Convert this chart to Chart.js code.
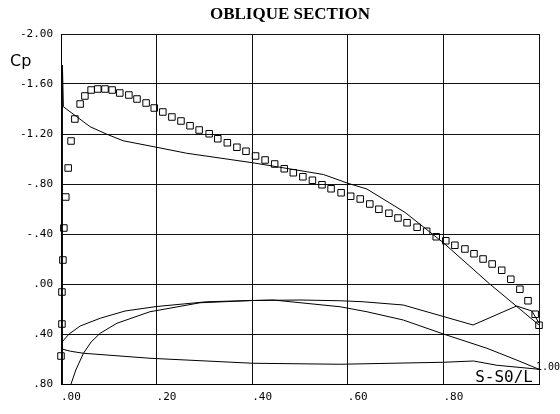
<!DOCTYPE html>
<html>
<head>
<meta charset="utf-8">
<title>Oblique section</title>
<script src="https://cdn.jsdelivr.net/npm/chart.js@4.4.1/dist/chart.umd.min.js"></script>
<style>
  html, body { margin: 0; padding: 0; background: #fff; }
  #wrap { width: 560px; height: 414px; }
</style>
</head>
<body>
<div id="wrap"><canvas id="cp-chart" width="560" height="414"></canvas></div>
<script>
// --- data (x = S-S0/L, y = Cp) ---
const expX = [0.000, 0.002, 0.002, 0.004, 0.006, 0.010, 0.015, 0.021, 0.029, 0.040, 0.050, 0.063, 0.077, 0.092, 0.107, 0.123,
  0.142, 0.159, 0.178, 0.195, 0.213, 0.232, 0.251, 0.270, 0.289, 0.310, 0.328, 0.348, 0.368, 0.387, 0.407, 0.427,
  0.447, 0.467, 0.486, 0.506, 0.526, 0.546, 0.565, 0.586, 0.606, 0.626, 0.646, 0.665, 0.686, 0.705, 0.724, 0.745,
  0.765, 0.785, 0.805, 0.824, 0.845, 0.864, 0.883, 0.902, 0.922, 0.941, 0.960, 0.977, 0.992, 1.000];
const expCp = [0.576, 0.320, 0.064, -0.192, -0.448, -0.696, -0.928, -1.144, -1.320, -1.440, -1.504, -1.552, -1.560, -1.560, -1.552, -1.528,
  -1.512, -1.480, -1.448, -1.408, -1.376, -1.336, -1.304, -1.266, -1.232, -1.202, -1.162, -1.130, -1.094, -1.062, -1.024, -0.992,
  -0.960, -0.922, -0.890, -0.858, -0.830, -0.794, -0.762, -0.730, -0.702, -0.680, -0.640, -0.598, -0.566, -0.528, -0.490, -0.454,
  -0.422, -0.378, -0.346, -0.310, -0.280, -0.242, -0.200, -0.160, -0.110, -0.038, 0.042, 0.134, 0.242, 0.330];

const upperX = [0.003, 0.003, 0.005, 0.019, 0.033, 0.061, 0.096, 0.130, 0.200, 0.263, 0.401, 0.458, 0.549, 0.600, 0.640, 0.720, 0.800, 0.897, 1.000];
const upperCp = [0.800, -1.752, -1.418, -1.378, -1.338, -1.258, -1.198, -1.146, -1.094, -1.046, -0.970, -0.934, -0.876, -0.806, -0.760, -0.572, -0.330, 0.000, 0.328];

const outerX = [0.002, 0.017, 0.040, 0.082, 0.134, 0.200, 0.305, 0.400, 0.500, 0.584, 0.632, 0.716, 0.862, 0.953, 0.985, 1.000];
const outerCp = [0.464, 0.400, 0.336, 0.274, 0.216, 0.180, 0.142, 0.132, 0.128, 0.134, 0.142, 0.168, 0.328, 0.176, 0.216, 0.312];

const innerX = [0.021, 0.031, 0.047, 0.063, 0.082, 0.117, 0.186, 0.291, 0.400, 0.444, 0.584, 0.640, 0.716, 0.800, 0.891, 0.953, 1.000];
const innerCp = [0.800, 0.688, 0.554, 0.464, 0.394, 0.314, 0.222, 0.150, 0.132, 0.128, 0.182, 0.222, 0.288, 0.400, 0.514, 0.608, 0.682];

const lowerX = [0.001, 0.002, 0.020, 0.047, 0.186, 0.401, 0.584, 0.800, 0.863, 0.912, 1.000];
const lowerCp = [0.464, 0.520, 0.538, 0.554, 0.594, 0.634, 0.642, 0.626, 0.616, 0.650, 0.682];

const yTicks = [-2.0, -1.6, -1.2, -0.8, -0.4, 0.0, 0.4, 0.8];
const xTicks = [0.0, 0.2, 0.4, 0.6, 0.8, 1.0];

const pts = (xs, ys) => xs.map((x, i) => ({ x, y: ys[i] }));

// plotter style labels: "-.80", ".00", "-1.60"
function fmt(v) {
  let s = Math.abs(v).toFixed(2);
  if (s[0] === '0') s = s.slice(1);
  return (v < -1e-9 ? '-' : '') + s;
}

const MONO = "'DejaVu Sans Mono', monospace";

const lineSet = (data) => ({
  data,
  showLine: true,
  borderColor: '#000',
  borderWidth: 1,
  pointRadius: 0,
  tension: 0,
  fill: false
});

// --- extra texts: title, Cp, axis name, last tick ---
const labelsPlugin = {
  id: 'plotterLabels',
  afterDraw(chart) {
    const ctx = chart.ctx;
    const { right } = chart.chartArea;
    ctx.save();
    ctx.fillStyle = '#000';
    ctx.textBaseline = 'middle';

    ctx.font = "bold 17px 'Liberation Serif', 'Times New Roman', serif";
    ctx.textAlign = 'center';
    ctx.fillText('OBLIQUE SECTION', 290, 15);

    ctx.textAlign = 'left';
    ctx.font = "16px 'DejaVu Sans', sans-serif";
    ctx.fillText('Cp', 10, 62);

    // last x tick sits raised, right of the frame
    ctx.font = '10px ' + MONO;
    ctx.textAlign = 'right';
    ctx.fillText(fmt(xTicks[xTicks.length - 1]).replace(/^\./, '1.'), 560, 367);

    ctx.font = '16px ' + MONO;
    ctx.fillText('S-S0/L', right - 6, 378);
    ctx.restore();
  }
};

new Chart(document.getElementById('cp-chart').getContext('2d'), {
  type: 'scatter',
  data: {
    datasets: [
      {
        data: pts(expX, expCp),
        pointStyle: 'rect',
        pointRadius: 4.6,
        pointBorderWidth: 1,
        pointBorderColor: '#000',
        pointBackgroundColor: 'rgba(0,0,0,0)',
        showLine: false,
        clip: 8
      },
      lineSet(pts(upperX, upperCp)),
      lineSet(pts(outerX, outerCp)),
      lineSet(pts(innerX, innerCp)),
      lineSet(pts(lowerX, lowerCp))
    ]
  },
  options: {
    responsive: false,
    animation: false,
    layout: { padding: { top: 34, right: 21, left: 0, bottom: 0 } },
    plugins: {
      legend: { display: false },
      tooltip: { enabled: false }
    },
    scales: {
      x: {
        type: 'linear',
        min: 0,
        max: 1,
        afterBuildTicks: (scale) => { scale.ticks = xTicks.map(v => ({ value: v })); },
        afterFit: (scale) => { scale.height = 30; },
        grid: { color: '#111', lineWidth: 1, drawTicks: false },
        border: { display: true, color: '#000', width: 1 },
        ticks: {
          align: 'start',
          padding: 7,
          color: '#000',
          font: { family: MONO, size: 11 },
          maxRotation: 0,
          autoSkip: false,
          callback: (v) => (v >= 0.999 ? '' : fmt(v))
        }
      },
      y: {
        type: 'linear',
        reverse: true,
        min: -2.0,
        max: 0.8,
        afterBuildTicks: (scale) => { scale.ticks = yTicks.map(v => ({ value: v })); },
        afterFit: (scale) => { scale.width = 61; },
        grid: { color: '#111', lineWidth: 1, drawTicks: false },
        border: { display: true, color: '#000', width: 1 },
        ticks: {
          padding: 8,
          color: '#000',
          font: { family: MONO, size: 11 },
          autoSkip: false,
          callback: (v) => fmt(v)
        }
      }
    }
  },
  plugins: [labelsPlugin]
});
</script>
</body>
</html>
